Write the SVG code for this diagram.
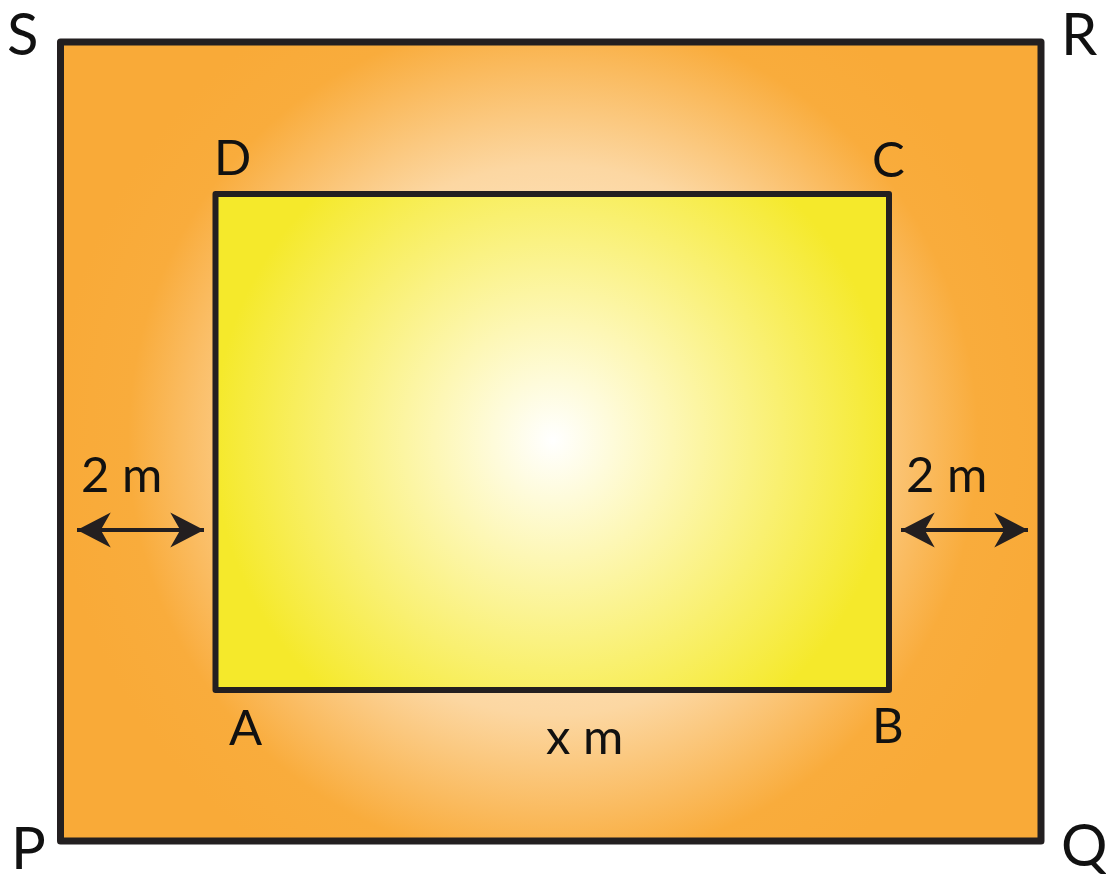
<svg xmlns="http://www.w3.org/2000/svg" width="1106" height="879" viewBox="0 0 1106 879">
  <style>
    .frame { stroke: #231F20; stroke-width: 7; stroke-linejoin: round; }
    .inner { stroke: #231F20; stroke-width: 6; stroke-linejoin: round; }
    .big { font-family: Lato, "Open Sans", "Liberation Sans", sans-serif; font-size: 58px; fill: #111; }
    .lbl { font-family: Lato, "Open Sans", "Liberation Sans", sans-serif; font-size: 49px; fill: #111; }
    .arrow { stroke: #231F20; stroke-width: 4; fill: none; }
  </style>
  <defs>
    <radialGradient id="gOuter" gradientUnits="userSpaceOnUse" cx="553" cy="440" r="500">
      <stop offset="0" stop-color="#FFF6E8"/>
      <stop offset="0.55" stop-color="#FCD7A2"/>
      <stop offset="0.85" stop-color="#F9AC3C"/>
      <stop offset="1" stop-color="#F9AA38"/>
    </radialGradient>
    <radialGradient id="gInner" gradientUnits="userSpaceOnUse" cx="553" cy="440" r="340">
      <stop offset="0" stop-color="#FFFFFF"/>
      <stop offset="0.35" stop-color="#FDF7B5"/>
      <stop offset="1" stop-color="#F5E92B"/>
    </radialGradient>
    <marker id="ah" markerUnits="userSpaceOnUse" markerWidth="40" markerHeight="40" viewBox="-30 -16 32 32" refX="0" refY="0" orient="auto-start-reverse">
      <path d="M0,0 L-27,-14 L-19,0 L-27,14 Z" fill="#231F20"/>
    </marker>
  </defs>

  <g id="outer">
    <rect class="frame" x="60.5" y="42" width="980.5" height="799" fill="url(#gOuter)"/>
  </g>
  <g id="inner">
    <rect class="inner" x="215.5" y="194" width="673.5" height="496" fill="url(#gInner)"/>
  </g>

  <g id="connectors">
    <line class="arrow" x1="77" y1="530" x2="204" y2="530" marker-start="url(#ah)" marker-end="url(#ah)"/>
    <line class="arrow" x1="901" y1="530" x2="1028" y2="530" marker-start="url(#ah)" marker-end="url(#ah)"/>
  </g>

  <g id="labels">
    <text class="big" x="7" y="55">S</text>
    <text class="big" x="1061" y="55">R</text>
    <text class="big" x="11" y="869">P</text>
    <text class="big" x="1061" y="866">Q</text>
    <text class="lbl" x="214" y="175">D</text>
    <text class="lbl" x="872" y="177">C</text>
    <text class="lbl" x="229" y="745">A</text>
    <text class="lbl" x="872" y="743">B</text>
    <text class="lbl" x="546" y="754">x m</text>
    <text class="lbl" x="81" y="492">2 m</text>
    <text class="lbl" x="906" y="492">2 m</text>
  </g>
</svg>
